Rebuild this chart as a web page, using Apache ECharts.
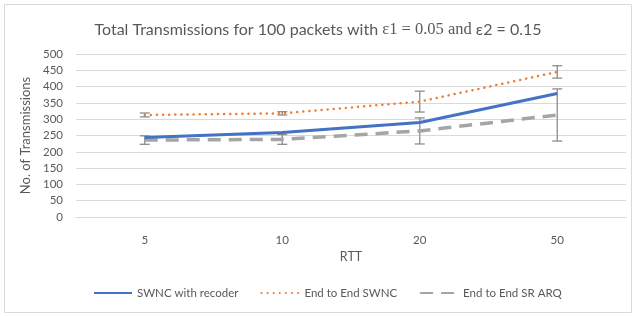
<!DOCTYPE html>
<html>
<head>
  <meta charset="utf-8">
  <title>Total Transmissions</title>
  <script src="https://cdn.jsdelivr.net/npm/echarts@6/dist/echarts.min.js"></script>
  <style>
    html, body { margin: 0; padding: 0; background: #fff; }
    #main { width: 636px; height: 316px; }
  </style>
</head>
<body>
  <div id="main"></div>
  <script>
    // data
    var rtt = ['5', '10', '20', '50'];
    var recoder = [244, 259, 290, 379];
    var e2eSwnc = [313, 318, 354, 445];
    var e2eArq = [236, 238, 264, 313];
    // error bar half widths
    var swncErr = [6, 5, 32, 19];
    var arqErr = [13, 15, 40, 80];

    var fontSans = 'Lato, "Open Sans", sans-serif';
    var textGray = '#595959';

    function errData(vals, errs) {
      return vals.map(function (v, i) { return [i, v - errs[i], v + errs[i]]; });
    }

    function errSeries(name, vals, errs) {
      return {
        type: 'custom',
        name: name + ' err',
        z: 1,
        silent: true,
        renderItem: function (params, api) {
          var x = api.value(0);
          var lo = api.coord([x, api.value(1)]);
          var hi = api.coord([x, api.value(2)]);
          var w = 5;
          var st = { stroke: '#8c8c8c', lineWidth: 1.3 };
          return {
            type: 'group',
            children: [
              { type: 'line', shape: { x1: lo[0], y1: lo[1], x2: hi[0], y2: hi[1] }, style: st },
              { type: 'line', shape: { x1: lo[0] - w, y1: lo[1], x2: lo[0] + w, y2: lo[1] }, style: st },
              { type: 'line', shape: { x1: hi[0] - w, y1: hi[1], x2: hi[0] + w, y2: hi[1] }, style: st }
            ]
          };
        },
        data: errData(vals, errs)
      };
    }

    var chart = echarts.init(document.getElementById('main'));

    var option = {
      animation: false,
      graphic: [{
        type: 'rect',
        shape: { x: 4.5, y: 4.5, width: 627, height: 308 },
        style: { fill: 'none', stroke: '#d9d9d9', lineWidth: 1 },
        silent: true
      }],
      title: {
        text: '{a|Total Transmissions for 100 packets with }{b|ε1 = 0.05 and}{a| ε2 = 0.15}',
        left: 'center',
        top: 16,
        textStyle: {
          fontWeight: 'normal',
          rich: {
            a: { fontFamily: fontSans, fontSize: 16, fontWeight: 'normal', color: textGray },
            b: { fontFamily: '"Liberation Serif", serif', fontSize: 16.5, fontWeight: 'normal', color: textGray }
          }
        }
      },
      legend: {
        bottom: 12,
        left: 88,
        itemWidth: 38,
        itemHeight: 6,
        itemGap: 22,
        itemStyle: { opacity: 0 },
        textStyle: { fontFamily: fontSans, fontSize: 11.5, color: textGray },
        data: ['SWNC with recoder', 'End to End SWNC', 'End to End SR ARQ']
      },
      grid: { left: 76, right: 10, top: 54, bottom: 99 },
      xAxis: {
        type: 'category',
        data: rtt,
        name: 'RTT',
        nameLocation: 'middle',
        nameGap: 33,
        nameTextStyle: { fontFamily: fontSans, fontSize: 12.5, color: textGray },
        axisLine: { lineStyle: { color: '#d9d9d9' } },
        axisTick: { show: false },
        axisLabel: { fontFamily: fontSans, fontSize: 11.5, color: textGray, margin: 17 }
      },
      yAxis: {
        type: 'value',
        min: 0,
        max: 500,
        interval: 50,
        name: 'No. of Transmissions',
        nameLocation: 'middle',
        nameGap: 40,
        nameTextStyle: { fontFamily: fontSans, fontSize: 13, color: textGray },
        axisLine: { show: false },
        axisTick: { show: false },
        axisLabel: { fontFamily: fontSans, fontSize: 11.5, color: textGray, margin: 13 },
        splitLine: { lineStyle: { color: '#d9d9d9' } }
      },
      series: [
        errSeries('SWNC', e2eSwnc, swncErr),
        errSeries('ARQ', e2eArq, arqErr),
        {
          name: 'End to End SR ARQ',
          type: 'line',
          data: e2eArq,
          symbol: 'none',
          z: 2,
          itemStyle: { color: '#a5a5a5' },
          lineStyle: { color: '#a5a5a5', width: 3.5, type: [13, 8] }
        },
        {
          name: 'SWNC with recoder',
          type: 'line',
          data: recoder,
          symbol: 'none',
          z: 3,
          itemStyle: { color: '#4472c4' },
          lineStyle: { color: '#4472c4', width: 3 }
        },
        {
          name: 'End to End SWNC',
          type: 'line',
          data: e2eSwnc,
          symbol: 'none',
          z: 4,
          itemStyle: { color: '#ed7d31' },
          lineStyle: { color: '#ed7d31', width: 2.5, type: [0.1, 6], cap: 'round' }
        }
      ]
    };

    chart.setOption(option);
  </script>
</body>
</html>
